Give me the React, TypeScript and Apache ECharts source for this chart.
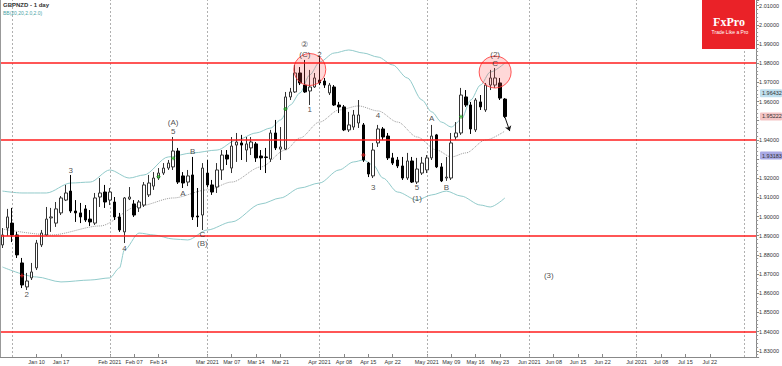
import { useEffect, useRef } from "react";
import * as echarts from "echarts";

const FONT = "'Liberation Sans', Arial, sans-serif";

// ---- categories: trading days (weekdays) ----
function buildDates(): string[] {
  const out: string[] = [];
  const d = new Date(Date.UTC(2020, 11, 30));
  while (out.length < 155) {
    const wd = d.getUTCDay();
    const s = d.toISOString().slice(0, 10);
    if (wd !== 0 && wd !== 6 && s !== "2021-01-01") out.push(s);
    d.setUTCDate(d.getUTCDate() + 1);
  }
  return out;
}
const dates = buildDates();

const xTickLabels: [string, string][] = [
  ["2021-01-11", "Jan 10"], ["2021-01-18", "Jan 17"], ["2021-02-01", "Feb 2021"],
  ["2021-02-08", "Feb 07"], ["2021-02-15", "Feb 14"], ["2021-03-01", "Mar 2021"],
  ["2021-03-08", "Mar 07"], ["2021-03-15", "Mar 14"], ["2021-03-22", "Mar 21"],
  ["2021-04-01", "Apr 2021"], ["2021-04-08", "Apr 08"], ["2021-04-15", "Apr 15"],
  ["2021-04-22", "Apr 22"], ["2021-05-03", "May 2021"], ["2021-05-10", "May 09"],
  ["2021-05-17", "May 16"], ["2021-05-24", "May 23"], ["2021-06-01", "Jun 2021"],
  ["2021-06-08", "Jun 08"], ["2021-06-15", "Jun 15"], ["2021-06-22", "Jun 22"],
  ["2021-07-01", "Jul 2021"], ["2021-07-08", "Jul 08"], ["2021-07-15", "Jul 15"],
  ["2021-07-22", "Jul 22"],
];
const monthStarts = ["2021-01-04", "2021-02-01", "2021-03-01", "2021-04-01", "2021-05-03", "2021-06-01", "2021-07-01", "2021-08-02"];

// ---- GBPNZD daily OHLC ----
const opens = [1.8852,1.8940,1.8966,1.8904,1.8758,1.8633,1.8680,1.8732,1.8852,1.8904,
1.8993,1.8966,1.9019,1.9086,1.9133,1.9029,1.9019,1.9040,1.8987,1.8966,
1.9102,1.9128,1.9086,1.9076,1.8998,1.8920,1.9092,1.9066,1.9045,1.9060,
1.9113,1.9159,1.9201,1.9227,1.9253,1.9259,1.9342,1.9212,1.9180,1.9217,
1.9003,1.9008,1.9227,1.9165,1.9154,1.9243,1.9321,1.9253,1.9373,1.9384,
1.9347,1.9358,1.9379,1.9316,1.9311,1.9300,1.9436,1.9352,1.9352,1.9624,
1.9650,1.9749,1.9686,1.9655,1.9676,1.9712,1.9707,1.9645,1.9676,1.9582,
1.9572,1.9452,1.9467,1.9488,1.9478,1.9279,1.9212,1.9384,1.9457,1.9420,
1.9306,1.9295,1.9264,1.9201,1.9290,1.9180,1.9227,1.9243,1.9306,1.9426,
1.9259,1.9201,1.9201,1.9415,1.9436,1.9624,1.9582,1.9452,1.9598,1.9556,
1.9686,1.9686,1.9697,1.9613];
const closes = [1.8904,1.8998,1.8904,1.8800,1.8643,1.8664,1.8711,1.8862,1.8914,1.8987,
1.8998,1.9040,1.9097,1.9123,1.9029,1.9019,1.8998,1.8982,1.8972,1.9097,
1.9123,1.9076,1.9128,1.8998,1.8930,1.9097,1.9102,1.9008,1.9076,1.9165,
1.9175,1.9201,1.9227,1.9253,1.9279,1.9342,1.9180,1.9175,1.9212,1.8998,
1.8998,1.9253,1.9165,1.9128,1.9243,1.9321,1.9300,1.9368,1.9389,1.9373,
1.9379,1.9389,1.9306,1.9306,1.9308,1.9436,1.9358,1.9363,1.9624,1.9650,
1.9749,1.9697,1.9650,1.9676,1.9723,1.9697,1.9686,1.9686,1.9582,1.9572,
1.9452,1.9478,1.9530,1.9530,1.9295,1.9222,1.9347,1.9457,1.9415,1.9306,
1.9279,1.9264,1.9201,1.9290,1.9180,1.9248,1.9279,1.9306,1.9420,1.9259,
1.9186,1.9206,1.9384,1.9436,1.9634,1.9582,1.9457,1.9608,1.9572,1.9686,
1.9723,1.9723,1.9618,1.9522];
const lows = [1.8836,1.8899,1.8867,1.8784,1.8627,1.8617,1.8669,1.8721,1.8841,1.8899,
1.8920,1.8946,1.9008,1.9081,1.9019,1.8972,1.8966,1.8972,1.8951,1.8956,
1.9050,1.9045,1.9060,1.8982,1.8920,1.8862,1.9086,1.8998,1.9024,1.9050,
1.9102,1.9139,1.9191,1.9217,1.9243,1.9243,1.9170,1.9149,1.9159,1.8982,
1.8946,1.8930,1.9154,1.9113,1.9123,1.9191,1.9269,1.9227,1.9285,1.9295,
1.9285,1.9321,1.9285,1.9243,1.9227,1.9285,1.9347,1.9295,1.9347,1.9608,
1.9645,1.9686,1.9645,1.9582,1.9671,1.9686,1.9671,1.9634,1.9577,1.9540,
1.9446,1.9441,1.9452,1.9462,1.9285,1.9206,1.9201,1.9363,1.9399,1.9295,
1.9269,1.9253,1.9191,1.9191,1.9175,1.9170,1.9217,1.9227,1.9295,1.9253,
1.9180,1.9186,1.9191,1.9399,1.9426,1.9572,1.9431,1.9441,1.9556,1.9546,
1.9660,1.9671,1.9608,1.9514];
const highs = [1.8940,1.9040,1.9045,1.8920,1.8784,1.8706,1.8758,1.8878,1.8930,1.9050,
1.9045,1.9076,1.9107,1.9165,1.9217,1.9086,1.9071,1.9060,1.9034,1.9123,
1.9201,1.9165,1.9149,1.9102,1.9019,1.9102,1.9154,1.9086,1.9086,1.9180,
1.9217,1.9232,1.9253,1.9279,1.9295,1.9415,1.9358,1.9232,1.9243,1.9311,
1.9149,1.9279,1.9295,1.9191,1.9279,1.9347,1.9347,1.9415,1.9436,1.9426,
1.9415,1.9415,1.9389,1.9347,1.9358,1.9452,1.9504,1.9467,1.9650,1.9671,
1.9791,1.9780,1.9817,1.9765,1.9749,1.9838,1.9723,1.9697,1.9686,1.9598,
1.9582,1.9546,1.9556,1.9608,1.9488,1.9285,1.9384,1.9478,1.9467,1.9436,
1.9332,1.9311,1.9311,1.9332,1.9311,1.9306,1.9311,1.9321,1.9478,1.9431,
1.9279,1.9311,1.9436,1.9493,1.9671,1.9660,1.9598,1.9618,1.9634,1.9697,
1.9765,1.9775,1.9723,1.9618];

// ---- Bollinger bands (read at sampled candles: [candle index, price]) ----
const upperBand: [number, number][] = [[0,1.9133],[4,1.9123],[9,1.9123],[14,1.9175],[18,1.9180],[22,1.9243],[26,1.9201],[29,1.9217],[34,1.9311],[39,1.9332],[44,1.9347],[48,1.9399],[52,1.9436],[55,1.9462],[57,1.9504],[59,1.9582],[61,1.9645],[63,1.9739],[65,1.9806],[68,1.9853],[71,1.9869],[74,1.9853],[77,1.9832],[80,1.9791],[83,1.9723],[86,1.9608],[88,1.9546],[90,1.9493],[92,1.9467],[94,1.9504],[96,1.9608],[98,1.9686],[100,1.9754],[103,1.9801]];
const middleBand: [number, number][] = [[0,1.8935],[10,1.8904],[20,1.8951],[28,1.9055],[35,1.9097],[42,1.9139],[47,1.9180],[53,1.9259],[58,1.9347],[61,1.9410],[65,1.9493],[69,1.9556],[73,1.9577],[77,1.9551],[81,1.9493],[85,1.9415],[89,1.9347],[92,1.9311],[95,1.9332],[99,1.9399],[103,1.9446]];
const lowerBand: [number, number][] = [[0,1.8737],[7,1.8685],[12,1.8659],[18,1.8669],[22,1.8680],[24,1.8732],[25,1.8826],[28,1.8914],[31,1.8904],[35,1.8883],[38,1.8878],[42,1.8930],[47,1.8972],[53,1.9066],[57,1.9097],[61,1.9149],[65,1.9175],[69,1.9243],[72,1.9285],[74,1.9295],[76,1.9269],[78,1.9201],[81,1.9128],[85,1.9086],[88,1.9113],[91,1.9133],[94,1.9107],[98,1.9060],[100,1.9050],[103,1.9097]];

// ---- levels and annotations ----
const resistanceLevels = [1.9778, 1.9431, 1.8923, 1.8413];
const priceTags: [number, string][] = [[1.96432, "#bfdfee"], [1.95222, "#f4c4c4"], [1.93183, "#a9a9e4"]];
const circleCenters: [number, number][] = [[63, 1.9767], [101, 1.9754]];
const greenMarks: [number, number][] = [[32, 1.9208], [35, 1.9304], [58, 1.9561], [94, 1.9521]];
const redMarks: [number, number][] = [[4, 1.8692], [74, 1.9321]];
const waveLabels: [string, number, number][] = [
  ["2", 5, 1.8596], ["3", 14, 1.9238], ["4", 25, 1.8831], ["(A)", 35, 1.9493], ["5", 35, 1.9446],
  ["B", 39, 1.9337], ["A", 37, 1.9118], ["C", 41, 1.8909], ["(B)", 41, 1.8857],
  ["\u2461", 62, 1.9900], ["(C)", 62, 1.9848], ["2", 65, 1.9848], ["1", 63, 1.9561],
  ["4", 77, 1.9525], ["3", 76, 1.9149], ["5", 85, 1.9149], ["(1)", 85, 1.9092],
  ["A", 88, 1.9509], ["B", 91, 1.9149], ["(2)", 101, 1.9848], ["C", 101, 1.9796], ["(3)", 112, 1.8695],
];
const arrowFrom: [number, number] = [103, 1.9519];
const arrowTo: [number, number] = [104, 1.9446];

const tickMap: Record<string, string> = {};
xTickLabels.forEach(([d, l]) => (tickMap[d] = l));

export default function App() {
  const ref = useRef<HTMLDivElement>(null);
  useEffect(() => {
    document.body.style.margin = "0";
    const chart = echarts.init(ref.current!, null, { renderer: "svg" });
    const candles = opens.map((o, i) => [o, closes[i], lows[i], highs[i]]);
    const bandLine = (data: [number, number][], color: string, type: string, extra: any = {}) => ({
      type: "line",
      data,
      symbol: "none",
      smooth: 0.3,
      smoothMonotone: "x",
      connectNulls: true,
      silent: true,
      lineStyle: { color, width: 1, type },
      z: 2,
      ...extra,
    });
    const baseGraphics: any[] = [
      { id: "lborder", type: "line", shape: { x1: 0.5, y1: 0, x2: 0.5, y2: 357 }, style: { stroke: "#999", lineWidth: 1 }, z: 10 },
      { id: "t1", type: "text", left: 3, top: 2, style: { text: "GBPNZD - 1 day", font: `bold 6px ${FONT}`, fill: "#333" }, z: 10 },
      { id: "t2", type: "text", left: 3, top: 10, style: { text: "BB(20,20,2.0,2.0)", font: `5px ${FONT}`, fill: "#4aa3a6" }, z: 10 },
      { id: "logo", type: "rect", shape: { x: 702, y: 0, width: 53, height: 49 }, style: { fill: "#ea2228" }, z: 100 },
      { id: "logo1", type: "text", x: 729, y: 22, style: { text: "FxPro", font: "bold 12px 'Liberation Serif', 'DejaVu Serif', serif", fill: "#fff", align: "center", verticalAlign: "middle" }, z: 101 },
      { id: "logo2", type: "text", x: 730, y: 32, style: { text: "Trade Like a Pro", font: `5px ${FONT}`, fill: "#fff", align: "center", verticalAlign: "middle" }, z: 101 },
    ];
    const hiddenByTag = (v: number) => priceTags.some(([t]) => Math.abs(t - v) < 0.003);
    chart.setOption({
      animation: false,
      backgroundColor: "#ffffff",
      grid: { left: 0, right: 23, top: 0, bottom: 9 },
      xAxis: {
        type: "category",
        data: dates,
        boundaryGap: true,
        axisLine: { show: true, lineStyle: { color: "#888", width: 1 } },
        axisTick: {
          show: true,
          inside: true,
          length: 3,
          alignWithLabel: true,
          interval: (_i: number, v: string) => !!tickMap[v],
          lineStyle: { color: "#888" },
        },
        axisLabel: {
          interval: (_i: number, v: string) => !!tickMap[v],
          formatter: (v: string) => tickMap[v] || "",
          fontSize: 5.5,
          color: "#333",
          margin: 2,
          fontFamily: FONT,
        },
        splitLine: { show: false },
      },
      yAxis: {
        type: "value",
        position: "right",
        min: 1.82674,
        max: 2.01297,
        splitNumber: 18,
        minInterval: 0.01,
        maxInterval: 0.01,
        splitLine: { show: false },
        axisLine: { show: true, lineStyle: { color: "#888", width: 1 } },
        axisTick: { show: true, length: 3, lineStyle: { color: "#888" } },
        minorTick: { show: true, splitNumber: 5, length: 2, lineStyle: { color: "#999" } },
        axisLabel: {
          fontSize: 5.5,
          color: "#333",
          margin: 3,
          fontFamily: FONT,
          showMinLabel: false,
          showMaxLabel: false,
          formatter: (v: number) => (hiddenByTag(v) ? "" : v.toFixed(5)),
        },
      },
      series: [
        bandLine(upperBand, "#92cbcb", "solid", {
          markLine: {
            silent: true,
            symbol: ["none", "none"],
            label: { show: false },
            lineStyle: { color: "#b0b0b0", width: 1, type: [2, 2] },
            data: monthStarts.map((d) => ({ xAxis: d })),
          },
        }),
        bandLine(lowerBand, "#92cbcb", "solid"),
        bandLine(middleBand, "#9a9a9a", "dotted", {
          markLine: {
            silent: true,
            symbol: ["none", "none"],
            label: { show: false },
            lineStyle: { color: "#ff1e1e", width: 1.5, type: "solid" },
            data: resistanceLevels.map((v) => ({ yAxis: v })),
            z: 8,
          },
        }),
        {
          type: "candlestick",
          data: candles,
          barWidth: 3,
          z: 5,
          silent: true,
          itemStyle: {
            color: "#ffffff",
            color0: "#000000",
            borderColor: "#333333",
            borderColor0: "#000000",
            borderWidth: 1,
          },
          markLine: {
            silent: true,
            symbol: ["none", "arrow"],
            symbolSize: 5,
            label: { show: false },
            lineStyle: { color: "#111", width: 1, type: "solid" },
            data: [
              [
                { coord: [dates[arrowFrom[0]], arrowFrom[1]] },
                { coord: [dates[arrowTo[0]], arrowTo[1]] },
              ],
            ],
          },
        },
        {
          type: "scatter",
          data: circleCenters,
          symbol: "circle",
          symbolSize: 32,
          silent: true,
          z: 7,
          itemStyle: { color: "rgba(255,80,80,0.28)", borderColor: "#ff3030", borderWidth: 1 },
        },
        {
          type: "scatter",
          data: greenMarks,
          symbol: "path://M1,0H2V1H3V2H2V3H1V2H0V1H1Z",
          symbolSize: 4,
          silent: true,
          z: 7,
          itemStyle: { color: "#22a722" },
        },
        {
          type: "scatter",
          data: redMarks,
          symbol: "path://M1,0H2V1H3V2H2V3H1V2H0V1H1Z",
          symbolSize: 4,
          silent: true,
          z: 7,
          itemStyle: { color: "#dd2222" },
        },
        {
          type: "scatter",
          data: waveLabels.map(([t, i, p]) => ({ value: [i, p], name: t })),
          symbol: "circle",
          symbolSize: 1,
          silent: true,
          z: 9,
          itemStyle: { color: "rgba(0,0,0,0)" },
          label: {
            show: true,
            position: "inside",
            formatter: (p: any) => p.name,
            fontSize: 8,
            color: "#222",
            textBorderWidth: 0,
            textBorderColor: "transparent",
            fontFamily: FONT,
          },
        },
      ],
      graphic: baseGraphics,
    });
    // price tags on the right axis, placed through the y axis scale
    const tagGraphics: any[] = [];
    priceTags.forEach(([v, bg], k) => {
      const y = chart.convertToPixel({ yAxisIndex: 0 }, v) as number;
      tagGraphics.push({ id: `tagr${k}`, type: "rect", shape: { x: 760, y: y - 4, width: 22, height: 8, r: 1 }, style: { fill: bg }, z: 50 });
      tagGraphics.push({ id: `tagt${k}`, type: "text", x: 762, y: y, style: { text: v.toFixed(5), font: `5.5px ${FONT}`, fill: "#333", verticalAlign: "middle" }, z: 51 });
    });
    chart.setOption({ graphic: [...baseGraphics, ...tagGraphics] });
    return () => chart.dispose();
  }, []);
  return <div ref={ref} style={{ width: 782, height: 366 }} />;
}
